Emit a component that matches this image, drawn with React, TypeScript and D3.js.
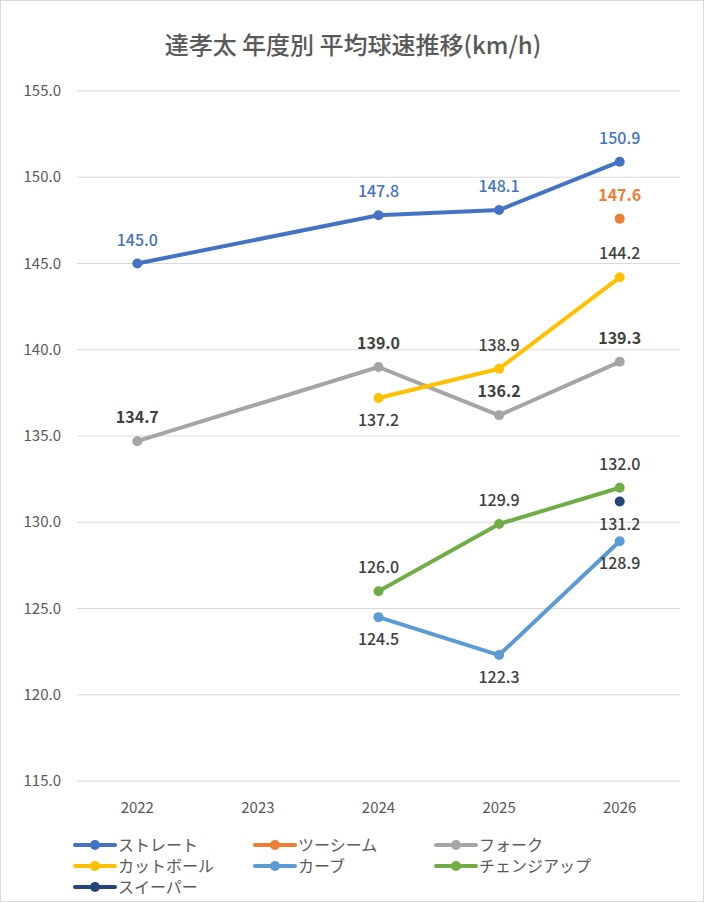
import React, { useEffect, useRef } from 'react';
import * as d3 from 'd3';

const years = ['2022', '2023', '2024', '2025', '2026'];
const yTicks = [115, 120, 125, 130, 135, 140, 145, 150, 155];

interface Series {
  name: string;
  color: string;
  values: (number | null)[];
  labelPos: ('above' | 'below')[];
  labelColor: string;
  bold: boolean;
}

const straight = [145.0, null, 147.8, 148.1, 150.9];
const twoSeam = [null, null, null, null, 147.6];
const fork = [134.7, null, 139.0, 136.2, 139.3];
const cutter = [null, null, 137.2, 138.9, 144.2];
const curve = [null, null, 124.5, 122.3, 128.9];
const changeUp = [null, null, 126.0, 129.9, 132.0];
const sweeper = [null, null, null, null, 131.2];

const series: Series[] = [
  { name: 'ストレート', color: '#4472C4', values: straight, labelPos: ['above', 'above', 'above', 'above', 'above'], labelColor: '#4472C4', bold: false },
  { name: 'ツーシーム', color: '#ED7D31', values: twoSeam, labelPos: ['above', 'above', 'above', 'above', 'above'], labelColor: '#ED7D31', bold: true },
  { name: 'フォーク', color: '#A5A5A5', values: fork, labelPos: ['above', 'above', 'above', 'above', 'above'], labelColor: '#404040', bold: true },
  { name: 'カットボール', color: '#FFC000', values: cutter, labelPos: ['below', 'below', 'below', 'above', 'above'], labelColor: '#404040', bold: false },
  { name: 'カーブ', color: '#5B9BD5', values: curve, labelPos: ['below', 'below', 'below', 'below', 'below'], labelColor: '#404040', bold: false },
  { name: 'チェンジアップ', color: '#70AD47', values: changeUp, labelPos: ['above', 'above', 'above', 'above', 'above'], labelColor: '#404040', bold: false },
  { name: 'スイーパー', color: '#264478', values: sweeper, labelPos: ['below', 'below', 'below', 'below', 'below'], labelColor: '#404040', bold: false },
];

const App = () => {
  const ref = useRef<SVGSVGElement>(null);

  useEffect(() => {
    document.body.style.margin = '0';
    const svg = d3.select(ref.current);
    svg.selectAll('*').remove();
    const font = '"Noto Sans CJK JP", "Noto Sans", sans-serif';

    svg.append('rect').attr('x', 0.5).attr('y', 0.5).attr('width', 703).attr('height', 901)
      .attr('fill', '#fff').attr('stroke', '#d9d9d9');

    svg.append('text').attr('x', 353).attr('y', 54).attr('text-anchor', 'middle')
      .attr('font-family', font).attr('font-size', 24).attr('font-weight', 500).attr('fill', '#595959')
      .text('達孝太 年度別 平均球速推移(km/h)');

    const x = d3.scaleBand().domain(years).range([77, 680]);
    const y = d3.scaleLinear().domain([115, 155]).range([781, 91]);
    const cx = (i: number) => (x(years[i]) as number) + x.bandwidth() / 2;

    const grid = svg.append('g');
    yTicks.forEach(t => {
      grid.append('line').attr('x1', 77).attr('x2', 680).attr('y1', y(t)).attr('y2', y(t))
        .attr('stroke', '#d9d9d9');
      grid.append('text').attr('x', 61).attr('y', y(t) + 5).attr('text-anchor', 'end')
        .attr('font-family', font).attr('font-size', 15).attr('fill', '#595959').text(t.toFixed(1));
    });
    years.forEach((yr, i) => {
      grid.append('text').attr('x', cx(i)).attr('y', 813).attr('text-anchor', 'middle')
        .attr('font-family', font).attr('font-size', 15).attr('fill', '#595959').text(yr);
    });

    series.forEach(s => {
      const pts = s.values.map((v, i) => ({ v, i })).filter(p => p.v !== null) as { v: number; i: number }[];
      const line = d3.line<{ v: number; i: number }>().x(p => cx(p.i)).y(p => y(p.v));
      if (pts.length > 1) {
        svg.append('path').attr('d', line(pts)).attr('fill', 'none').attr('stroke', s.color)
          .attr('stroke-width', 4).attr('stroke-linejoin', 'round');
      }
      pts.forEach(p => {
        svg.append('circle').attr('cx', cx(p.i)).attr('cy', y(p.v)).attr('r', 5).attr('fill', s.color);
        const above = s.labelPos[p.i] === 'above';
        svg.append('text').attr('x', cx(p.i)).attr('y', y(p.v) + (above ? -18 : 28))
          .attr('text-anchor', 'middle').attr('font-family', font).attr('font-size', 16)
          .attr('font-weight', s.bold ? 'bold' : 500).attr('fill', s.labelColor)
          .text(p.v.toFixed(1));
      });
    });

    const cols = [75, 255, 436];
    const rows = [845, 866, 887];
    series.forEach((s, i) => {
      const lx = cols[i % 3];
      const ly = rows[Math.floor(i / 3)];
      svg.append('line').attr('x1', lx).attr('x2', lx + 40).attr('y1', ly).attr('y2', ly)
        .attr('stroke', s.color).attr('stroke-width', 4).attr('stroke-linecap', 'round');
      svg.append('circle').attr('cx', lx + 20).attr('cy', ly).attr('r', 5).attr('fill', s.color);
      svg.append('text').attr('x', lx + 43).attr('y', ly + 6).attr('font-family', font)
        .attr('font-size', 16).attr('fill', '#595959').text(s.name);
    });
  }, []);

  return <svg ref={ref} width={705} height={903} />;
};

export default App;
